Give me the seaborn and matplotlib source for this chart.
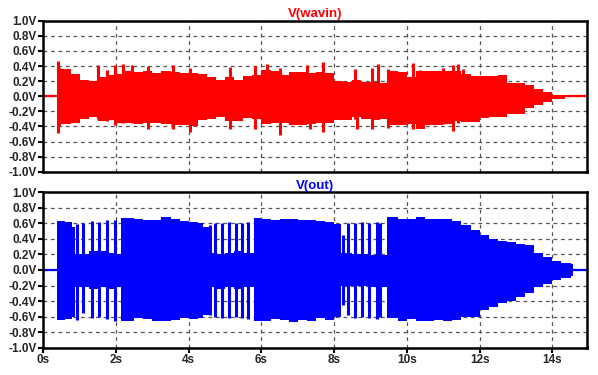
import numpy as np
import pandas as pd
import matplotlib
matplotlib.use("Agg")
import matplotlib.pyplot as plt
import seaborn as sns

# ---- V(wavin): envelope of the input waveform ----
in_t = [0.37, 0.5, 0.75, 1.0, 1.25, 1.5, 1.75, 2.0, 2.25, 2.5, 2.75, 3.0, 3.25, 3.5, 3.75,
        4.0, 4.25, 4.5, 4.75, 5.0, 5.25, 5.5, 5.75, 6.0, 6.25, 6.5, 6.75, 7.0, 7.25, 7.5,
        7.75, 8.0, 8.25, 8.5, 8.75, 9.0, 9.25, 9.5, 9.75, 10.0, 10.25, 10.5, 10.75, 11.0,
        11.25, 11.5, 11.75, 12.0, 12.25, 12.5, 12.75, 13.0, 13.25, 13.5, 13.75, 14.0, 14.35]
in_hi = [0.38, 0.36, 0.30, 0.22, 0.20, 0.26, 0.28, 0.30, 0.33, 0.32, 0.33, 0.31, 0.33, 0.32, 0.31,
         0.31, 0.30, 0.26, 0.22, 0.25, 0.22, 0.27, 0.28, 0.35, 0.34, 0.28, 0.32, 0.32, 0.31, 0.32,
         0.31, 0.20, 0.19, 0.22, 0.19, 0.19, 0.18, 0.33, 0.32, 0.26, 0.33, 0.34, 0.33, 0.34,
         0.33, 0.30, 0.27, 0.27, 0.27, 0.28, 0.18, 0.18, 0.15, 0.10, 0.06, 0.02, 0.0]
in_lo = [-0.40, -0.37, -0.35, -0.30, -0.27, -0.33, -0.31, -0.36, -0.36, -0.37, -0.36, -0.35, -0.37, -0.38, -0.38,
         -0.39, -0.32, -0.30, -0.28, -0.33, -0.33, -0.29, -0.30, -0.37, -0.36, -0.36, -0.38, -0.38, -0.37, -0.36,
         -0.36, -0.32, -0.32, -0.28, -0.30, -0.31, -0.30, -0.38, -0.38, -0.37, -0.44, -0.38, -0.38, -0.37,
         -0.33, -0.34, -0.34, -0.29, -0.27, -0.27, -0.23, -0.23, -0.16, -0.12, -0.07, -0.04, 0.0]

# spikes sticking out of the input envelope
in_spike_t = [0.41, 1.51, 1.74, 1.97, 2.2, 2.43, 2.89, 3.57, 4.03, 5.13, 5.82, 6.14, 6.51,
              7.24, 7.33, 7.70, 8.57, 8.62, 9.03, 9.21, 9.49, 10.17, 10.36, 10.99, 11.27, 11.41, 11.55]
in_spike_hi = [0.47, 0.41, 0.35, 0.41, 0.43, 0.41, 0.40, 0.41, 0.37, 0.39, 0.40, 0.43, 0.37,
               0.41, 0.30, 0.45, 0.36, 0.20, 0.38, 0.43, 0.36, 0.44, 0.35, 0.37, 0.41, 0.43, 0.36]
in_spike_lo = [-0.49, -0.30, -0.33, -0.38, -0.35, -0.36, -0.43, -0.43, -0.47, -0.43, -0.43, -0.36, -0.51,
               -0.36, -0.43, -0.48, -0.30, -0.43, -0.43, -0.30, -0.42, -0.44, -0.38, -0.37, -0.46, -0.35, -0.33]

# ---- V(out): envelope of the output waveform ----
out_t = [0.37, 0.6, 0.8, 0.87, 1.25, 1.5, 1.75, 2.0, 2.15, 2.5, 2.75, 3.0, 3.25, 3.5, 3.75,
         4.0, 4.25, 4.4, 4.55, 4.75, 5.0, 5.25, 5.5, 5.8, 6.0, 6.25, 6.5, 6.75, 7.0, 7.25,
         7.5, 7.75, 8.0, 8.2, 8.5, 9.0, 9.44, 9.75, 10.0, 10.25, 10.5, 10.75, 11.0, 11.25,
         11.5, 11.75, 12.0, 12.25, 12.5, 12.75, 13.0, 13.25, 13.5, 13.75, 14.0, 14.25, 14.5, 14.58]
out_hi = [0.63, 0.62, 0.55, 0.20, 0.24, 0.25, 0.22, 0.20, 0.67, 0.66, 0.64, 0.64, 0.68, 0.66, 0.63,
          0.62, 0.60, 0.55, 0.22, 0.20, 0.22, 0.25, 0.22, 0.67, 0.66, 0.64, 0.65, 0.66, 0.64, 0.64,
          0.63, 0.62, 0.59, 0.22, 0.20, 0.19, 0.68, 0.66, 0.65, 0.68, 0.66, 0.65, 0.65, 0.63,
          0.58, 0.52, 0.45, 0.40, 0.37, 0.36, 0.33, 0.32, 0.22, 0.17, 0.12, 0.09, 0.08, 0.0]
out_lo = [-0.64, -0.63, -0.60, -0.22, -0.24, -0.22, -0.24, -0.22, -0.65, -0.62, -0.63, -0.66, -0.65, -0.64, -0.62,
          -0.63, -0.62, -0.58, -0.22, -0.24, -0.22, -0.24, -0.22, -0.65, -0.66, -0.63, -0.64, -0.67, -0.64, -0.66,
          -0.62, -0.64, -0.61, -0.20, -0.20, -0.22, -0.62, -0.65, -0.63, -0.66, -0.65, -0.64, -0.66, -0.64,
          -0.60, -0.60, -0.52, -0.47, -0.43, -0.40, -0.35, -0.30, -0.22, -0.18, -0.13, -0.10, -0.08, 0.0]

# bursts inside the quiet parts of V(out)
out_burst_t = [0.92, 1.10, 1.33, 1.53, 1.74, 1.96,
               4.58, 4.72, 4.92, 5.11, 5.29, 5.46, 5.62,
               8.24, 8.37, 8.57, 8.77, 8.97, 9.17, 9.27]
out_burst_hi = [0.59, 0.60, 0.63, 0.62, 0.64, 0.64,
                0.58, 0.60, 0.61, 0.62, 0.60, 0.61, 0.62,
                0.45, 0.60, 0.61, 0.62, 0.61, 0.62, 0.60]
out_burst_lo = [-0.64, -0.55, -0.62, -0.60, -0.63, -0.66,
                -0.58, -0.60, -0.62, -0.62, -0.60, -0.62, -0.63,
                -0.45, -0.58, -0.62, -0.61, -0.62, -0.63, -0.60]

t_end = 14.95
yticks = [-1.0, -0.8, -0.6, -0.4, -0.2, 0.0, 0.2, 0.4, 0.6, 0.8, 1.0]
xticks = [0, 2, 4, 6, 8, 10, 12, 14]

sns.set_theme(style="white")
plt.rcParams['font.family'] = ['Liberation Sans', 'DejaVu Sans']
plt.rcParams['font.weight'] = 'bold'

fig = plt.figure(figsize=(5.98, 3.75), dpi=100)
ax1 = fig.add_axes([0.0724, 0.542, 0.909, 0.4027])
ax2 = fig.add_axes([0.0724, 0.0728, 0.909, 0.4144])


def draw(ax, t, hi, lo, extra_t, extra_hi, extra_lo, color, title):
    # flat line before and after the signal
    base = pd.DataFrame({"t": [0, t[0], t[-1], t_end], "v": [0, 0, 0, 0],
                         "seg": ["a", "a", "b", "b"]})
    for _, seg in base.groupby("seg"):
        sns.lineplot(data=seg, x="t", y="v", ax=ax, color=color, lw=1.6)
    ax.fill_between(t, lo, hi, step="post", color=color, lw=0)
    ax.vlines(extra_t, extra_lo, extra_hi, color=color, lw=2.2)

    ax.set_xlim(0, t_end)
    ax.set_ylim(-1.0, 1.0)
    ax.set_yticks(yticks)
    ax.set_yticklabels([f"{v:.1f}V" for v in yticks])
    ax.set_xticks(xticks)
    ax.grid(True, color="#555555", ls=(0, (3, 3)), lw=0.9)
    for s in ax.spines.values():
        s.set_color("black")
        s.set_linewidth(1.8)
    ax.tick_params(axis="y", direction="out", length=3.5, width=1.5, color="black",
                   labelsize=8.5, pad=1, left=True)
    ax.set_xlabel("")
    ax.set_ylabel("")
    ax.set_title(title, color=color, fontsize=9.5, fontweight="bold", pad=2.5)


draw(ax1, in_t, in_hi, in_lo, in_spike_t, in_spike_hi, in_spike_lo, "#ff0000", "V(wavin)")
draw(ax2, out_t, out_hi, out_lo, out_burst_t, out_burst_hi, out_burst_lo, "#0000ff", "V(out)")

ax1.tick_params(axis="x", length=0, labelbottom=False)
ax2.tick_params(axis="x", direction="out", length=3.5, width=1.5, color="black",
                labelsize=8.5, pad=1, bottom=True)
ax2.set_xticklabels([f"{x}s" for x in xticks])

fig.savefig("out.png", dpi=100)
